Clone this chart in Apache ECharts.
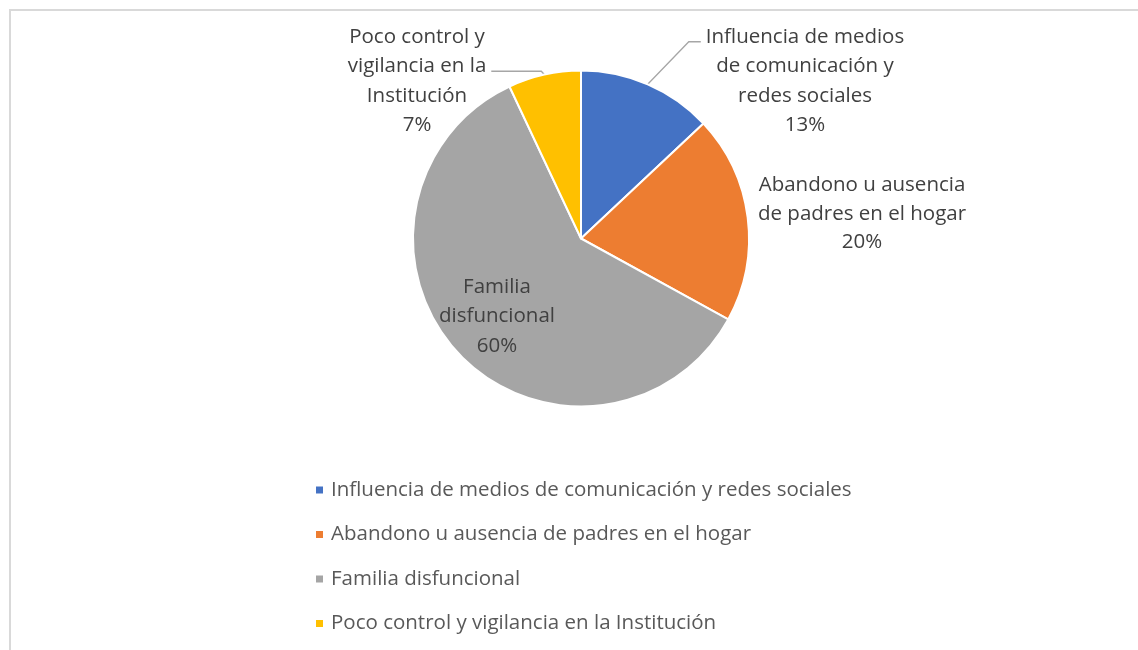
<!DOCTYPE html>
<html><head><meta charset="utf-8">
<script src="https://cdn.jsdelivr.net/npm/echarts@6/dist/echarts.min.js"></script>
<style>html,body{margin:0;padding:0;background:#fff}#c{width:1138px;height:650px}</style>
</head><body><div id="c"></div>
<script>
const categories = ['Influencia de medios de comunicación y redes sociales','Abandono u ausencia de padres en el hogar','Familia disfuncional','Poco control y vigilancia en la Institución'];
const values = [13, 20, 60, 7];
// wrapped label lines for each slice
const labelLines = [
  ['Influencia de medios','de comunicación y','redes sociales'],
  ['Abandono u ausencia','de padres en el hogar'],
  ['Familia','disfuncional'],
  ['Poco control y','vigilancia en la','Institución']
];
// index of the wrapped line the leader line attaches to (-1 = no leader line)
const leaderLine = [0, -1, -1, 1];
const colors = ['#4472C4','#ED7D31','#A5A5A5','#FFC000'];

const FONT = 'Open Sans';
const FS = 20.5;
const NB = '\u00a0';
// label block placement: centre x, top y of the first text line
const blocks = [
  {x: 805, top: 22, lh: 29.5, pos: 'outside', len2: 12, pad: [0, 0, 10, 5]},
  {x: 862, top: 171, lh: 28.5, pos: 'outside', len2: 0, pad: 0},
  {x: 497, top: 272, lh: 29.5, pos: 'inside', len2: 0, pad: 0},
  {x: 417, top: 22, lh: 29.5, pos: 'outside', len2: 50, pad: [0, 5, 10, 0]}
];
const pct = v => Math.round(v) + '%';
const total = values.reduce((a, b) => a + b, 0);
function allLines(i) { return labelLines[i].concat([pct(values[i] / total * 100)]); }

const chart = echarts.init(document.getElementById('c'));
const mainData = categories.map((n, i) => {
  const L = allLines(i), b = blocks[i], k = leaderLine[i];
  const hasLine = k >= 0;
  return {
    name: n, value: values[i],
    label: {
      position: b.pos,
      lineHeight: b.lh,
      padding: b.pad,
      formatter: hasLine ? L[k] : L.join('\n')
    },
    labelLine: {show: hasLine, length2: b.len2}
  };
});
const ghostData = categories.map((n, i) => {
  const L = allLines(i), b = blocks[i], k = leaderLine[i];
  const hasLine = k >= 0;
  return {
    name: n, value: values[i],
    label: {
      show: hasLine, position: 'outside', lineHeight: b.lh,
      formatter: hasLine ? L.map((t, j) => j === k ? NB : t).join('\n') : ''
    }
  };
});
chart.setOption({
  animation: false,
  color: colors,
  graphic: [{type:'rect', shape:{x:10,y:10,width:1160,height:680}, style:{fill:'none', stroke:'#d9d9d9', lineWidth:2}, silent:true}],
  legend: {
    orient: 'vertical', left: 314, top: 479, padding: 0,
    icon: 'rect', itemWidth: 9, itemHeight: 9, itemGap: 22.5,
    textStyle: {fontFamily: FONT, fontSize: FS, color: '#595959', lineHeight: 22, padding: [0, 0, 0, 2]},
    data: categories
  },
  series: [{
    type: 'pie', name: 'main',
    center: [581, 238.5], radius: 168,
    startAngle: 90, clockwise: true,
    itemStyle: {borderColor: '#fff', borderWidth: 2},
    label: {fontFamily: FONT, fontSize: FS, color: '#404040'},
    labelLine: {show: true, lineStyle: {color: '#a6a6a6', width: 1.3}, length: 5},
    data: mainData,
    labelLayout: function (p) {
      const i = p.dataIndex, b = blocks[i], k = leaderLine[i];
      const shift = Array.isArray(b.pad) ? (b.pad[1] - b.pad[3]) / 2 : 0;
      return {x: b.x + shift, y: b.top + (k >= 0 ? k * b.lh : 0), align: 'center', verticalAlign: 'top'};
    }
  }, {
    type: 'pie', name: 'ghost', silent: true, legendHoverLink: false,
    center: [581, 238.5], radius: 168,
    startAngle: 90, clockwise: true,
    itemStyle: {color: 'rgba(0,0,0,0)', borderWidth: 0},
    emphasis: {disabled: true},
    label: {fontFamily: FONT, fontSize: FS, color: '#404040'},
    labelLine: {show: false},
    data: ghostData,
    labelLayout: function (p) {
      const b = blocks[p.dataIndex];
      return {x: b.x, y: b.top, align: 'center', verticalAlign: 'top'};
    }
  }]
});
</script></body></html>
